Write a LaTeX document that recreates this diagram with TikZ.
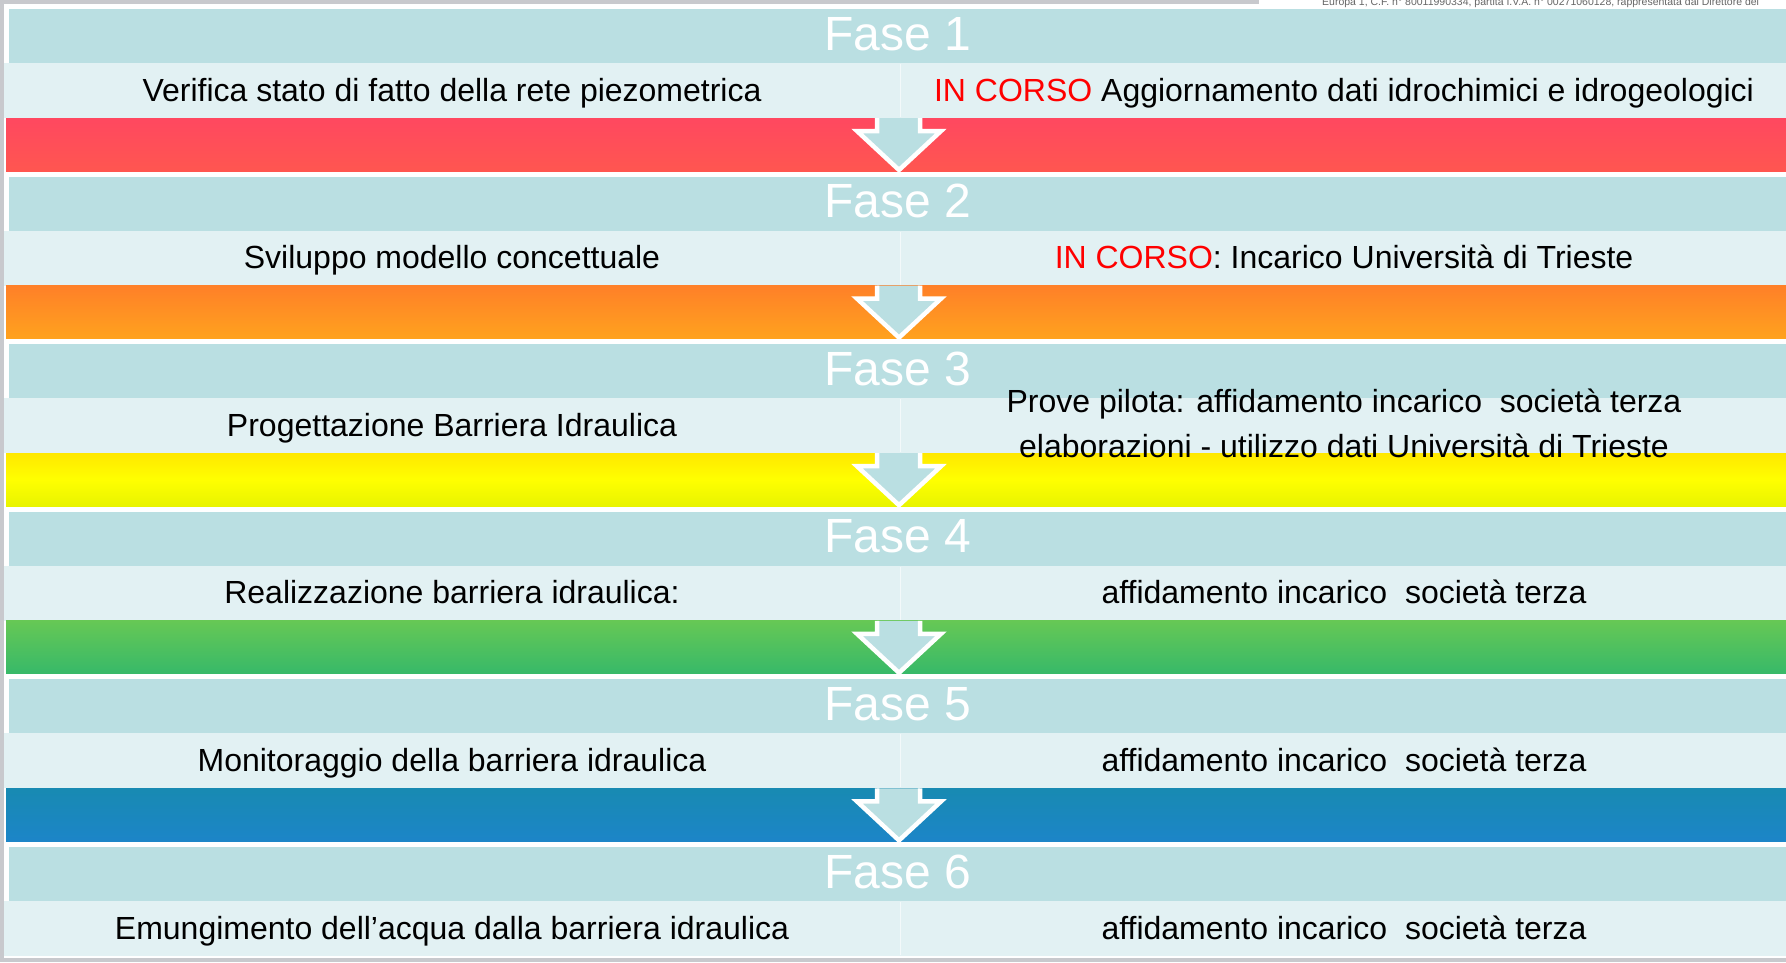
\documentclass[tikz,border=0pt]{standalone}
\usepackage{fontspec}
\setmainfont{Liberation Sans}
\definecolor{bggray}{RGB}{200,201,205}
\definecolor{headteal}{RGB}{186,223,226}
\definecolor{lightrow}{RGB}{226,241,243}
\definecolor{incorso}{RGB}{255,0,0}
\definecolor{redA}{RGB}{255,72,96}
\definecolor{redB}{RGB}{255,86,80}
\definecolor{orA}{RGB}{255,128,40}
\definecolor{orB}{RGB}{255,162,30}
\definecolor{yeA}{RGB}{255,232,0}
\definecolor{yeB}{RGB}{232,244,0}
\definecolor{grA}{RGB}{102,200,85}
\definecolor{grB}{RGB}{55,185,105}
\definecolor{blA}{RGB}{24,138,178}
\definecolor{blB}{RGB}{28,133,200}
\begin{document}
\begin{tikzpicture}[x=1pt,y=-1pt,
  txt/.style={font=\fontsize{32}{38}\selectfont, text=black, inner sep=0pt, anchor=base},
  fase/.style={font=\fontsize{48}{52}\selectfont, text=white, inner sep=0pt, anchor=base},
  arrowfill/.style={fill=headteal},
  arrowline/.style={draw=white, line width=4.5pt, line join=miter},
  seam/.style={draw=lightrow!40!white, line width=0.8pt}]
\useasboundingbox (0,0) rectangle (1786,962);
\fill[bggray] (0,0) rectangle (1786,962);
\fill[white] (4,4) rectangle (1786,958);
\fill[white] (1259,0) rectangle (1786,9);
\node[font=\fontsize{10.5}{11}\selectfont, text=black!60, inner sep=0pt, anchor=base west] (note) at (1322,5) {Europa 1, C.F. n° 80011990334, partita I.V.A. n° 00271060128, rappresentata dal Direttore del};
% rows
\foreach \k in {1,...,6}{
  \pgfmathsetmacro\yo{9+167.6*(\k-1)}
  \fill[headteal] (9,\yo) rectangle (1786,\yo+54);
  \fill[lightrow] (4,\yo+54) rectangle (1786,\yo+109);
  \draw[seam] (900,\yo+55) -- (900,\yo+108);
}
% coloured bands
\foreach \k/\ca/\cb in {1/redA/redB,2/orA/orB,3/yeA/yeB,4/grA/grB,5/blA/blB}{
  \pgfmathsetmacro\yo{9+167.6*(\k-1)}
  \ifnum\k=3
    \shade[top color=yeA, bottom color=yeB, middle color=yellow] (6,\yo+109) rectangle (1786,\yo+162);
  \else
    \shade[top color=\ca, bottom color=\cb] (6,\yo+109) rectangle (1786,\yo+162);
  \fi
  \fill[arrowfill] (877,\yo+109) -- (877,\yo+122) -- (857,\yo+122) -- (899,\yo+161) -- (941,\yo+122) -- (920,\yo+122) -- (920,\yo+109) -- cycle;
  \draw[arrowline] (877,\yo+109) -- (877,\yo+122) -- (857,\yo+122) -- (899,\yo+161) -- (941,\yo+122) -- (920,\yo+122) -- (920,\yo+109);
}
% phase labels
\foreach \k in {1,...,6}{
  \pgfmathsetmacro\yo{9+167.6*(\k-1)}
  \node[fase] (f\k) at (898,\yo+41) {Fase \k};
}
% texts
\node[txt] (l1) at (452,101) {Verifica stato di fatto della rete piezometrica};
\node[txt] (r1) at (1344,101) {\textcolor{incorso}{IN CORSO} Aggiornamento dati idrochimici e idrogeologici};
\node[txt] (l2) at (452,268.6) {Sviluppo modello concettuale};
\node[txt] (r2) at (1344,268.6) {\textcolor{incorso}{IN CORSO}: Incarico Università di Trieste};
\node[txt] (l3) at (452,436.2) {Progettazione Barriera Idraulica};
\node[txt] (r3a) at (1344,412.2) {Prove pilota: affidamento incarico\ \ società terza};
\node[txt] (r3b) at (1344,457.2) {elaborazioni - utilizzo dati Università di Trieste};
\node[txt] (l4) at (452,603.8) {Realizzazione barriera idraulica:};
\node[txt] (r4) at (1344,603.8) {affidamento incarico\ \ società terza};
\node[txt] (l5) at (452,771.4) {Monitoraggio della barriera idraulica};
\node[txt] (r5) at (1344,771.4) {affidamento incarico\ \ società terza};
\node[txt] (l6) at (452,939) {Emungimento dell’acqua dalla barriera idraulica};
\node[txt] (r6) at (1344,939) {affidamento incarico\ \ società terza};
\end{tikzpicture}
\end{document}
